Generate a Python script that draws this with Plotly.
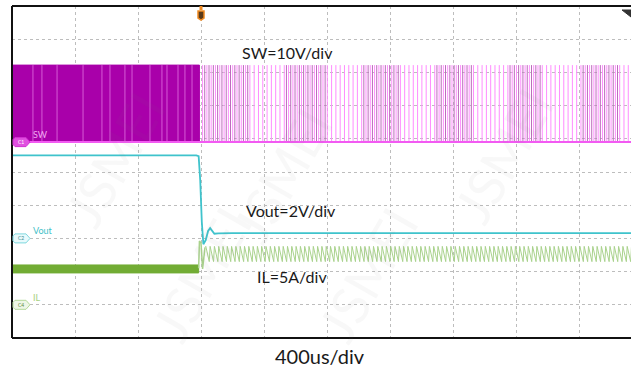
import numpy as np
import plotly.graph_objects as go

# ---- time base --------------------------------------------------------------
US_PER_DIV = 400
X_END_US = 3930          # visible record length (about 9.8 divisions)
TRIGGER_US = 1200        # trigger point, 3 divisions from the left edge

# ---- CH1 : switch node --------------------------------------------------------
SW_OFFSET_DIV = 5.9
SW_V_PER_DIV = 10
SW_LOW_V = 0.0
SW_HIGH_V = 23.2
SW_DENSE_END_US = 1190                      # continuous switching before the fault
SW_STREAKS_US = [133, 190, 286, 451, 571, 622, 717, 762, 876, 952, 984, 1054, 1098, 1143]
SW_PULSE_PERIOD_US = 27.3                   # burst pulses after the fault
SW_FIRST_PULSE_US = 1210
SW_DARK_GROUPS_US = [(1206, 1492), (1702, 2000), (2210, 2463),
                     (2667, 2908), (3143, 3365), (3606, 3848)]

# ---- CH2 : output voltage -----------------------------------------------------
VOUT_OFFSET_DIV = 3.0
VOUT_V_PER_DIV = 2
VOUT_T_US = [0, 1170, 1185, 1195, 1205, 1215, 1230, 1245, 1258, 1270, 1285, 1310, 1400, X_END_US]
VOUT_V = [5.0, 5.0, 4.95, 3.5, 1.0, -0.35, -0.1, 0.45, 0.62, 0.45, 0.28, 0.30, 0.32, 0.32]

# ---- CH4 : inductor current ---------------------------------------------------
IL_OFFSET_DIV = 1.0
IL_A_PER_DIV = 5
IL_PRE_LOW_A = 4.8
IL_PRE_HIGH_A = 6.0
IL_PRE_END_US = 1185
IL_STEP_T_US = [1185, 1190, 1200, 1210, 1225]
IL_STEP_A = [5.5, 9.6, 9.3, 5.4, 8.6]
IL_RIPPLE_PEAK_A = 8.8
IL_RIPPLE_VALLEY_A = 6.5
IL_RIPPLE_PERIOD_US = 27.3

C_SW_DARK = "#A900AA"
C_SW_LIGHT = "#FF8CFF"
C_SW_MID = "#BA6ABA"
C_VOUT = "#3FC3CC"
C_IL_DARK = "#72AC34"
C_IL_LIGHT = "#A9D28C"


def sw_div(v):
    return SW_OFFSET_DIV + np.asarray(v, dtype=float) / SW_V_PER_DIV


def vout_div(v):
    return VOUT_OFFSET_DIV + np.asarray(v, dtype=float) / VOUT_V_PER_DIV


def il_div(a):
    return IL_OFFSET_DIV + np.asarray(a, dtype=float) / IL_A_PER_DIV


def vertical_segments(times, lo, hi):
    xs, ys = [], []
    for t in times:
        xs += [t, t, None]
        ys += [lo, hi, None]
    return xs, ys


fig = go.Figure()

# SW before the fault: switching too fast to resolve -> solid envelope
sw_lo, sw_hi = float(sw_div(SW_LOW_V)), float(sw_div(SW_HIGH_V))
fig.add_trace(go.Scatter(
    x=[0, SW_DENSE_END_US, SW_DENSE_END_US, 0, 0],
    y=[sw_lo, sw_lo, sw_hi, sw_hi, sw_lo],
    fill="toself", fillcolor=C_SW_DARK, line=dict(color=C_SW_DARK, width=1),
    mode="lines", hoverinfo="skip", showlegend=False))
xs, ys = vertical_segments(SW_STREAKS_US, sw_lo, sw_hi)
fig.add_trace(go.Scatter(x=xs, y=ys, mode="lines",
                         line=dict(color="#D65AD6", width=1),
                         hoverinfo="skip", showlegend=False))

# SW after the fault: burst pulses
pulse_t = np.arange(SW_FIRST_PULSE_US, X_END_US, SW_PULSE_PERIOD_US)
xs, ys = vertical_segments(pulse_t, sw_lo, sw_hi)
fig.add_trace(go.Scatter(x=xs, y=ys, mode="lines",
                         line=dict(color=C_SW_LIGHT, width=1),
                         hoverinfo="skip", showlegend=False))
dark_t = [t + SW_PULSE_PERIOD_US / 2 for t in pulse_t
          if any(a <= t <= b for a, b in SW_DARK_GROUPS_US)]
xs, ys = vertical_segments(dark_t, sw_lo, sw_hi)
fig.add_trace(go.Scatter(x=xs, y=ys, mode="lines",
                         line=dict(color=C_SW_MID, width=1),
                         hoverinfo="skip", showlegend=False))
fig.add_trace(go.Scatter(x=[0, X_END_US], y=[sw_lo, sw_lo], mode="lines",
                         line=dict(color="#F25AF2", width=2),
                         hoverinfo="skip", showlegend=False))

# IL before the fault: noisy steady current -> envelope band
il_lo, il_hi = float(il_div(IL_PRE_LOW_A)), float(il_div(IL_PRE_HIGH_A))
fig.add_trace(go.Scatter(
    x=[0, IL_PRE_END_US, IL_PRE_END_US, 0, 0],
    y=[il_lo, il_lo, il_hi, il_hi, il_lo],
    fill="toself", fillcolor=C_IL_DARK, line=dict(color=C_IL_DARK, width=1),
    mode="lines", hoverinfo="skip", showlegend=False))
fig.add_trace(go.Scatter(x=IL_STEP_T_US, y=il_div(IL_STEP_A), mode="lines",
                         line=dict(color=C_IL_LIGHT, width=1.5),
                         hoverinfo="skip", showlegend=False))

# IL after the fault: triangular ripple at the burst period
rt, ra = [IL_STEP_T_US[-1]], [IL_STEP_A[-1]]
t = IL_STEP_T_US[-1]
while t < X_END_US:
    rt += [t + 0.2 * IL_RIPPLE_PERIOD_US, t + IL_RIPPLE_PERIOD_US]
    ra += [IL_RIPPLE_PEAK_A, IL_RIPPLE_VALLEY_A]
    t += IL_RIPPLE_PERIOD_US
fig.add_trace(go.Scatter(x=rt, y=il_div(ra), mode="lines",
                         line=dict(color=C_IL_LIGHT, width=1),
                         hoverinfo="skip", showlegend=False))

# Vout
fig.add_trace(go.Scatter(x=VOUT_T_US, y=vout_div(VOUT_V), mode="lines",
                         line=dict(color=C_VOUT, width=1.8),
                         hoverinfo="skip", showlegend=False))

shapes = []
annotations = []

# screen border
for x0, y0, x1, y1 in [(0, 0, 0, 1), (0, 1, 1, 1), (0, 0, 1, 0)]:
    shapes.append(dict(type="line", xref="paper", yref="paper",
                       x0=x0, y0=y0, x1=x1, y1=y1,
                       line=dict(color="#111111", width=2), layer="above"))

# channel ground markers
pent = "M 3,-4.5 L 14,-4.5 L 18,0 L 14,4.5 L 3,4.5 L 1,2.5 L 1,-2.5 Z"
for name, off, fill, edge, txtc, label, lcol in [
    ("C1", SW_OFFSET_DIV, "#E050E0", "#D030D0", "white", "SW", "#F0A8F0"),
    ("C2", VOUT_OFFSET_DIV, "#E8FAFC", "#7FD8DE", "#3A8A90", "Vout", "#3FBFC8"),
    ("C4", IL_OFFSET_DIV, "#EEF7E6", "#B5D99A", "#5B8A3A", "IL", "#A6D17F"),
]:
    shapes.append(dict(type="path", xref="x", yref="y", xsizemode="pixel",
                       ysizemode="pixel", xanchor=0, yanchor=off, path=pent,
                       fillcolor=fill, line=dict(color=edge, width=1),
                       layer="above"))
    annotations.append(dict(x=0, y=off, xref="x", yref="y", text=name,
                            showarrow=False, xanchor="center", xshift=9,
                            font=dict(size=5, color=txtc, family="Lato")))
    annotations.append(dict(x=0, y=off, xref="x", yref="y", text=label,
                            showarrow=False, xanchor="left", yanchor="bottom",
                            xshift=19, yshift=0,
                            font=dict(size=9, color=lcol, family="Lato")))

# trigger marker
shapes.append(dict(type="path", xref="x", yref="paper", xsizemode="pixel",
                   ysizemode="pixel", xanchor=TRIGGER_US, yanchor=1,
                   path="M -3,-5 L 3,-5 L 3,-12 L 0,-14 L -3,-12 Z",
                   fillcolor="#5A3A1A", line=dict(color="#F08A20", width=1.5),
                   layer="above"))
shapes.append(dict(type="line", xref="x", yref="paper", xsizemode="pixel",
                   ysizemode="pixel", xanchor=TRIGGER_US, yanchor=1,
                   x0=0, x1=0, y0=0, y1=-4,
                   line=dict(color="#F08A20", width=3), layer="above"))
# trigger level marker
shapes.append(dict(type="path", xref="paper", yref="paper", xsizemode="pixel",
                   ysizemode="pixel", xanchor=1, yanchor=1,
                   path="M -9,-4 L 0,-4 L 0,-11 Z",
                   fillcolor="#333333", line=dict(color="#333333", width=1),
                   layer="above"))

# faint watermark
for wx, wy in [(0.06, 0.78), (0.33, 0.25), (0.9, 0.55), (0.2, -0.05), (0.68, -0.05)]:
    annotations.append(dict(x=wx, y=wy, xref="paper", yref="paper", text="JSMEI",
                            showarrow=False, textangle=-60,
                            font=dict(size=52, color="rgba(120,120,120,0.05)",
                                      family="Lato")))

# scale captions
for cap, tx, ty in [("SW=10V/div", 1746, 8.61), ("Vout=2V/div", 1771, 3.83),
                    ("IL=5A/div", 1778, 1.84)]:
    annotations.append(dict(x=tx, y=ty, xref="x", yref="y", text=cap,
                            showarrow=False,
                            font=dict(size=16, color="#1a1a1a", family="Lato")))
annotations.append(dict(x=0.4976, y=-0.096, xref="paper", yref="paper",
                        text=f"{US_PER_DIV}us/div", showarrow=False,
                        font=dict(size=20, color="#1a1a1a", family="Lato")))

grid = dict(showgrid=True, gridcolor="#BDBDBD", griddash="dot", gridwidth=1,
            zeroline=False, showticklabels=False, ticks="", showline=False)
fig.update_layout(
    width=631, height=385,
    margin=dict(l=12, r=0, t=6, b=47),
    paper_bgcolor="white", plot_bgcolor="white",
    xaxis=dict(range=[0, X_END_US], tick0=0, dtick=US_PER_DIV, **grid),
    yaxis=dict(range=[0, 10], tick0=0, dtick=1, **grid),
    shapes=shapes, annotations=annotations, showlegend=False,
)
fig.write_html("out.html")
